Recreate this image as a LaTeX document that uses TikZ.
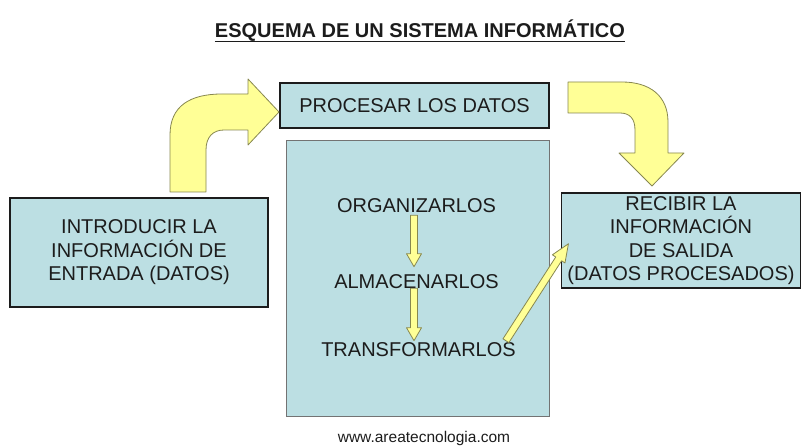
\documentclass[tikz,border=0pt]{standalone}
\usepackage{fontspec}
\setmainfont{Liberation Sans}
\usetikzlibrary{calc, positioning}
\definecolor{boxblue}{RGB}{188,223,227}
\definecolor{arrowfill}{RGB}{255,255,150}
\definecolor{arrowedge}{RGB}{135,135,80}
\definecolor{inkgray}{RGB}{28,28,28}
\newcommand{\drawA}[3][13]{
    \path let \p1=(#2), \p2=(#3) in \pgfextra{%
        \pgfmathsetmacro{\angA}{atan2(\y2-\y1,\x2-\x1)}%
        \pgfmathsetmacro{\lenA}{veclen(\x2-\x1,\y2-\y1)}%
        \xdef\angA{\angA}\xdef\lenA{\lenA}};
    \filldraw[yarrow, shift={(#2)}, rotate=\angA]
        (0,-3.5) -- (\lenA-#1,-3.5) -- (\lenA-#1,-7.5) -- (\lenA,0)
        -- (\lenA-#1,7.5) -- (\lenA-#1,3.5) -- (0,3.5) -- cycle;
}

\begin{document}
\begin{tikzpicture}[x=1pt, y=-1pt,
    box/.style={draw=inkgray, fill=boxblue, text=inkgray, align=center,
        font=\fontsize{20}{23.5}\selectfont, inner sep=0pt},
    txt/.style={text=inkgray, font=\fontsize{20}{23.5}\selectfont, inner sep=2pt},
    yarrow/.style={draw=arrowedge, fill=arrowfill, line width=0.8pt, line join=round}]
    \useasboundingbox (0,0) rectangle (804,446);

    %Title
        \node[text=inkgray, font=\bfseries\fontsize{20}{24}\selectfont, anchor=base, inner sep=0pt]
            (title) at (420,38) {ESQUEMA DE UN SISTEMA INFORM\'ATICO};
        \draw[inkgray, line width=1.6pt] ([yshift=-3.5pt]title.base west) -- ([yshift=-3.5pt]title.base east);

    %Boxes
        \node[box, line width=2.5pt, minimum width=269, minimum height=45] (proc) at (414.5,105.5) {PROCESAR LOS DATOS};
        \node[box, draw=black!55, line width=0.8pt, minimum width=263, minimum height=276] (work) at (417.5,278) {};
        \node[box, line width=2.2pt, minimum width=258, minimum height=109] (intro) at (139,252.5)
            {INTRODUCIR LA\\INFORMACI\'ON DE\\ENTRADA (DATOS)};
        \node[box, line width=1.8pt, minimum width=239, minimum height=95] (rec) at (681,240.5)
            {RECIBIR LA\\INFORMACI\'ON\\DE SALIDA\\(DATOS PROCESADOS)};

    %Steps
        \node[txt] (org) at (416.5,206) {ORGANIZARLOS};
        \node[txt] (alm) at (416.5,282) {ALMACENARLOS};
        \node[txt] (tra) at (418.5,350) {TRANSFORMARLOS};

    %Bent arrows
        \filldraw[yarrow] (170,192) -- (170,135) .. controls (170,106) and (190,94) .. (222,94)
            -- (248,94) -- (248,79) -- (279,112) -- (248,145) -- (248,130) -- (224,130)
            .. controls (213,130) and (206,137) .. (206,150) -- (206,192) -- cycle;
        \filldraw[yarrow] (568,82) -- (622,82) .. controls (650,82) and (668,96) .. (668,122)
            -- (668,153) -- (684,153) -- (652,186) -- (619,153) -- (635,153) -- (635,130)
            .. controls (635,119) and (630,113) .. (620,113) -- (568,113) -- cycle;

    %Straight arrows
        \drawA{[xshift=-2.5pt]org.south}{[xshift=-2.5pt, yshift=6pt]alm.north}
        \drawA{[xshift=-2.5pt, yshift=3pt]alm.south}{[xshift=-4.5pt]tra.north}
        \drawA[18]{[xshift=-12pt]tra.north east}{[xshift=8pt, yshift=-3pt]rec.west}

    %Footer
        \node[text=inkgray, font=\fontsize{15.5}{18}\selectfont, anchor=base] (web) at (424,443) {www.areatecnologia.com};
\end{tikzpicture}
\end{document}
